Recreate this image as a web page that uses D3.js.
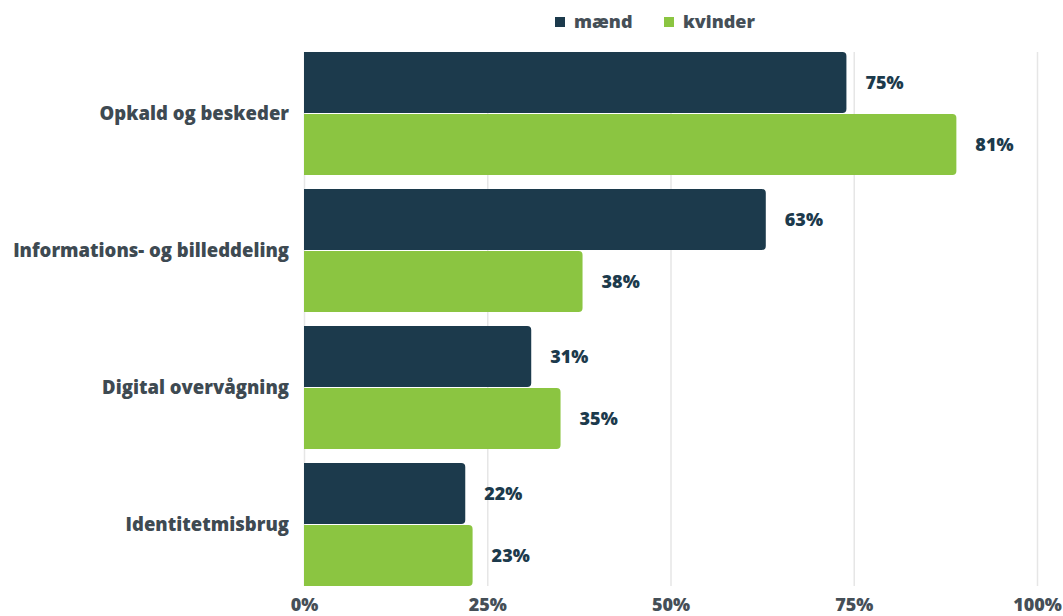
<!DOCTYPE html>
<html><head><meta charset="utf-8">
<script src="https://cdn.jsdelivr.net/npm/d3@7"></script>
<style>body{margin:0;background:#fff;font-family:"Open Sans",sans-serif;}</style>
</head><body><svg id="c" width="1063" height="616"></svg>
<script>
const categories = ["Opkald og beskeder","Informations- og billeddeling","Digital overvågning","Identitetmisbrug"];
const seriesNames = ["mænd","kvinder"];
const maendValues = [74, 63, 31, 22];
const kvinderValues = [89, 38, 35, 23];
const maendLabels = ["75%","63%","31%","22%"];
const kvinderLabels = ["81%","38%","35%","23%"];
const xTicks = [0, 25, 50, 75, 100];
const colors = ["#1c3a4c", "#8bc541"];

(function(){
const svg = d3.select("#c");
const mL = 304, mR = 1037, mT = 52, mB = 586;
const FW = 800;
const x = d3.scaleLinear().domain([0,100]).range([mL,mR]);
const y0 = d3.scaleBand().domain(categories).range([mT-7, mB+7]).paddingInner(0).paddingOuter(0);
const y1 = d3.scaleBand().domain(seriesNames).range([7, y0.bandwidth()-7]).paddingInner(0.016);

svg.append("g").selectAll("line").data(xTicks).join("line")
  .attr("x1", d=>x(d)+0.5).attr("x2", d=>x(d)+0.5)
  .attr("y1", mT).attr("y2", mB)
  .attr("stroke", "#e6e6e6").attr("stroke-width", 1.5);

const xAxis = d3.axisBottom(x).tickValues(xTicks).tickFormat(d=>d+"%").tickSize(0);
const ax = svg.append("g").attr("transform", `translate(0,${mB})`).call(xAxis);
ax.select(".domain").remove();
ax.selectAll("text").attr("dy", null).attr("y", 25)
  .attr("font-family", "Open Sans").attr("font-weight", FW).attr("font-size", 18).attr("fill", "#454f57");

function barPath(x0, yT, w, h, r){
  return `M${x0},${yT}H${x0+w-r}Q${x0+w},${yT} ${x0+w},${yT+r}V${yT+h-r}Q${x0+w},${yT+h} ${x0+w-r},${yT+h}H${x0}Z`;
}

const rows = categories.map((c,i)=>({c, vals:[maendValues[i], kvinderValues[i]], labs:[maendLabels[i], kvinderLabels[i]]}));
const g = svg.append("g").selectAll("g").data(rows).join("g")
  .attr("transform", d=>`translate(0,${y0(d.c)})`);

g.selectAll("path").data(d=>d.vals.map((v,j)=>({v, s:seriesNames[j], j})))
  .join("path")
  .attr("d", d=>barPath(x(0), y1(d.s), x(d.v)-x(0), y1.bandwidth(), 4))
  .attr("fill", d=>colors[d.j]);

g.selectAll("text.val").data(d=>d.vals.map((v,j)=>({v, s:seriesNames[j], lab:d.labs[j]})))
  .join("text").attr("class","val")
  .attr("x", d=>x(d.v)+19).attr("y", d=>y1(d.s)+y1.bandwidth()/2)
  .attr("dy", "0.35em")
  .attr("font-family","Open Sans").attr("font-weight",FW).attr("font-size",18)
  .attr("fill","#1c3a4c").text(d=>d.lab);

g.append("text").attr("x", 289).attr("y", y0.bandwidth()/2).attr("dy","0.35em")
  .attr("text-anchor","end").attr("font-family","Open Sans").attr("font-weight",FW)
  .attr("font-size",18.5).attr("fill","#3e4a52").text(d=>d.c);

const leg = svg.append("g");
const legX = [555, 664];
seriesNames.forEach((s,i)=>{
  leg.append("rect").attr("x", legX[i]).attr("y", 17).attr("width", 10).attr("height", 10).attr("fill", colors[i]);
  leg.append("text").attr("x", legX[i]+19).attr("y", 22).attr("dy","0.35em")
    .attr("font-family","Open Sans").attr("font-weight",FW).attr("font-size",18).attr("fill","#454f57").text(s);
});
})();
</script></body></html>
